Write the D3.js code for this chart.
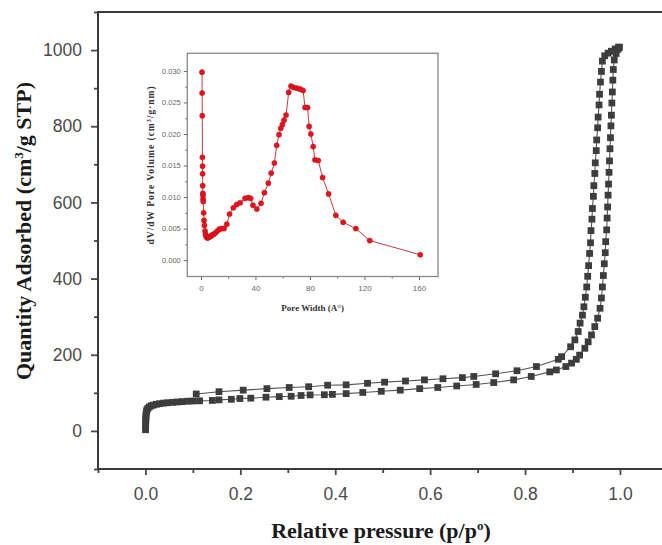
<!DOCTYPE html>
<html>
<head>
<meta charset="utf-8">
<script src="https://cdn.jsdelivr.net/npm/d3@7/dist/d3.min.js"></script>
<style>
  html, body { margin: 0; padding: 0; background: #fff; }
  svg { display: block; }
</style>
</head>
<body>
<svg id="chart" width="662" height="545"></svg>
<script>
// N2 isotherm: adsorption branch [p/p0, quantity cm3/g STP]
const adsorption = [
  [0.0003, 3], [0.0004, 10], [0.0005, 17], [0.0006, 24], [0.0008, 31], [0.001, 38],
  [0.0013, 44], [0.002, 50], [0.003, 55], [0.005, 59], [0.008, 63], [0.012, 66],
  [0.017, 68], [0.023, 70], [0.030, 71.5], [0.038, 73], [0.047, 74], [0.057, 75],
  [0.067, 76], [0.078, 77], [0.089, 78], [0.100, 78.5],
  [0.114, 79], [0.141, 80], [0.155, 81.5], [0.181, 83], [0.199, 85], [0.222, 86],
  [0.254, 88.5], [0.282, 90], [0.307, 91], [0.328, 93], [0.347, 94.5], [0.377, 95],
  [0.394, 96], [0.423, 98], [0.458, 101], [0.497, 104], [0.537, 107], [0.578, 111],
  [0.616, 114], [0.656, 118], [0.697, 122], [0.734, 127], [0.776, 134], [0.813, 143],
  [0.852, 155], [0.866, 160], [0.886, 169], [0.898, 178], [0.908, 188], [0.915, 199],
  [0.926, 217], [0.933, 234], [0.940, 252], [0.947, 274], [0.953, 296], [0.958, 322],
  [0.961, 349], [0.963, 378], [0.965, 408], [0.967, 439], [0.969, 468], [0.970, 497],
  [0.972, 528], [0.973, 559], [0.974, 588], [0.975, 619], [0.976, 648], [0.977, 679],
  [0.978, 709], [0.979, 741], [0.980, 770], [0.981, 801], [0.982, 829], [0.983, 861],
  [0.984, 890], [0.985, 921], [0.986, 949], [0.988, 974], [0.992, 991], [0.996, 1002],
  [0.999, 1007]
];

// Desorption branch [p/p0, quantity cm3/g STP]
const desorption = [
  [0.107, 97], [0.155, 103], [0.206, 107], [0.256, 111], [0.303, 114], [0.344, 116],
  [0.384, 120], [0.423, 121], [0.468, 125], [0.504, 128], [0.548, 131], [0.588, 134],
  [0.627, 137], [0.668, 140], [0.692, 143], [0.738, 150], [0.783, 158], [0.824, 169],
  [0.870, 188], [0.877, 195], [0.896, 221], [0.905, 239], [0.912, 261], [0.916, 283],
  [0.921, 304], [0.924, 326], [0.927, 351], [0.930, 378], [0.932, 406], [0.934, 434],
  [0.936, 466], [0.938, 494], [0.939, 526], [0.941, 556], [0.942, 584], [0.944, 616],
  [0.945, 644], [0.947, 676], [0.948, 704], [0.950, 736], [0.951, 764], [0.953, 796],
  [0.954, 824], [0.956, 856], [0.957, 884], [0.959, 916], [0.961, 944], [0.963, 971],
  [0.968, 985], [0.975, 992], [0.982, 997], [0.990, 1003], [0.997, 1008]
];

// Pore size distribution [pore width (A), dV/dW]
const poreDistribution = [
  [0.8, 0.0298], [0.9, 0.0265], [1.0, 0.0229], [1.1, 0.0163], [1.2, 0.0149], [1.25, 0.0137],
  [1.3, 0.0118], [1.4, 0.0106], [1.5, 0.0103], [1.6, 0.0097], [1.7, 0.0093], [2.0, 0.0075],
  [2.3, 0.0063], [2.6, 0.0055], [3.0, 0.0046], [3.4, 0.0041], [3.8, 0.0038], [4.3, 0.0036],
  [4.9, 0.0035], [5.6, 0.0036], [6.4, 0.0037], [7.3, 0.0038], [8.3, 0.0040], [9.4, 0.0041],
  [10.6, 0.0043], [12.0, 0.0046], [13.5, 0.0049], [15.2, 0.0050], [17.0, 0.0050],
  [19.0, 0.0057], [21.0, 0.0073], [23.8, 0.0083], [26.2, 0.0088], [28.8, 0.0091],
  [32.4, 0.0098], [34.8, 0.0099], [36.5, 0.0098], [38.2, 0.0087], [41.0, 0.0081],
  [44.1, 0.0090], [46.6, 0.0107], [49.5, 0.0122], [51.6, 0.0138], [53.9, 0.0154],
  [55.6, 0.0182], [57.3, 0.0199], [58.6, 0.0209], [59.8, 0.0215], [61.0, 0.0222],
  [62.5, 0.0230], [64.4, 0.0266], [66.1, 0.0276], [67.8, 0.0274], [69.8, 0.0273],
  [71.5, 0.0272], [73.2, 0.0271], [75.0, 0.0269], [76.4, 0.0242], [78.3, 0.0242],
  [79.4, 0.0212], [80.7, 0.0200], [82.4, 0.0180], [83.7, 0.0159], [86.1, 0.0158],
  [89.3, 0.0131], [93.7, 0.0105], [99.0, 0.0071], [104.4, 0.0060], [113.7, 0.0050],
  [123.9, 0.0031], [161.0, 0.00085]
];

// Tick values
const mainXTicks = [0.0, 0.2, 0.4, 0.6, 0.8, 1.0];
const mainXMinor = [-0.1, 0.1, 0.3, 0.5, 0.7, 0.9];
const mainYTicks = [0, 200, 400, 600, 800, 1000];
const mainYMinor = [-100, 100, 300, 500, 700, 900, 1100];
const insetXTicks = [0, 40, 80, 120, 160];
const insetXMinor = [20, 60, 100, 140];
const insetYTicks = [0, 0.005, 0.010, 0.015, 0.020, 0.025, 0.030];
const insetYMinor = [0.0025, 0.0075, 0.0125, 0.0175, 0.0225, 0.0275];

const svg = d3.select("#chart");

// ---------- main isotherm plot ----------
const x = d3.scaleLinear().domain([-0.1, 1.1]).range([98, 667.4]);
const y = d3.scaleLinear().domain([-100, 1100]).range([469, 12]);

const axisColor = "#3a3a3a";
const sansFont = "'Liberation Sans', Arial, sans-serif";
const serifFont = "'Liberation Serif', 'Times New Roman', serif";

function styleAxis(g, fontSize, color, font) {
  g.select(".domain").remove();
  g.selectAll(".tick line").attr("stroke", color);
  g.selectAll(".tick text")
    .attr("fill", color)
    .style("font-family", font)
    .style("font-size", fontSize + "px");
}

// major + minor ticks
svg.append("g")
  .attr("transform", `translate(0,${y(-100)})`)
  .call(d3.axisBottom(x).tickValues(mainXTicks).tickFormat(d3.format(".1f"))
    .tickSize(6).tickPadding(13))
  .call(g => styleAxis(g, 17.5, "#4a4a4a", sansFont))
  .call(g => g.selectAll(".tick line").attr("stroke-width", 1.8));
svg.append("g")
  .attr("transform", `translate(0,${y(-100)})`)
  .call(d3.axisBottom(x).tickValues(mainXMinor).tickFormat("").tickSize(4))
  .call(g => styleAxis(g, 10, "#444", sansFont))
  .call(g => g.selectAll(".tick line").attr("stroke-width", 1.8));

svg.append("g")
  .attr("transform", `translate(${x(-0.1)},0)`)
  .call(d3.axisLeft(y).tickValues(mainYTicks).tickFormat(d3.format("d"))
    .tickSize(7).tickPadding(9))
  .call(g => styleAxis(g, 17.5, "#4a4a4a", sansFont))
  .call(g => g.selectAll(".tick line").attr("stroke-width", 1.8));
svg.append("g")
  .attr("transform", `translate(${x(-0.1)},0)`)
  .call(d3.axisLeft(y).tickValues(mainYMinor).tickFormat("").tickSize(4))
  .call(g => styleAxis(g, 10, "#444", sansFont))
  .call(g => g.selectAll(".tick line").attr("stroke-width", 1.8));

// plot frame
svg.append("rect")
  .attr("x", x(-0.1)).attr("y", y(1100))
  .attr("width", x(1.1) - x(-0.1)).attr("height", y(-100) - y(1100))
  .attr("fill", "none").attr("stroke", axisColor).attr("stroke-width", 2);

// isotherm branches
const line = d3.line().x(d => x(d[0])).y(d => y(d[1]));
const square = d3.symbol(d3.symbolSquare, 46);

[adsorption, desorption].forEach(series => {
  svg.append("path")
    .datum(series)
    .attr("d", line)
    .attr("fill", "none")
    .attr("stroke", "#555")
    .attr("stroke-width", 1.1);
  svg.append("g")
    .selectAll("path")
    .data(series)
    .join("path")
    .attr("transform", d => `translate(${x(d[0])},${y(d[1])})`)
    .attr("d", square)
    .attr("fill", "#3d3d3d");
});

// axis titles
svg.append("text")
  .attr("x", 381).attr("y", 538)
  .attr("text-anchor", "middle")
  .style("font-family", serifFont).style("font-weight", "bold").style("font-size", "22px")
  .attr("fill", "#1a1a1a")
  .call(t => {
    t.append("tspan").text("Relative pressure (p/p");
    t.append("tspan").attr("dy", -8).style("font-size", "13px").text("o");
    t.append("tspan").attr("dy", 8).text(")");
  });

svg.append("text")
  .attr("transform", "translate(31,231) rotate(-90)")
  .attr("text-anchor", "middle")
  .style("font-family", serifFont).style("font-weight", "bold").style("font-size", "22px")
  .attr("fill", "#1a1a1a")
  .call(t => {
    t.append("tspan").text("Quantity Adsorbed (cm");
    t.append("tspan").attr("dy", -8).style("font-size", "13px").text("3");
    t.append("tspan").attr("dy", 8).text("/g STP)");
  });

// ---------- inset: pore size distribution ----------
const ix = d3.scaleLinear().domain([-10, 174]).range([187.3, 438]);
const iy = d3.scaleLinear().domain([-0.0026, 0.0328]).range([276.5, 53.3]);

svg.append("g")
  .attr("transform", `translate(0,${iy(-0.0026)})`)
  .call(d3.axisBottom(ix).tickValues(insetXTicks).tickFormat(d3.format("d"))
    .tickSize(3.5).tickPadding(5))
  .call(g => styleAxis(g, 8, "#666", sansFont));
svg.append("g")
  .attr("transform", `translate(0,${iy(-0.0026)})`)
  .call(d3.axisBottom(ix).tickValues(insetXMinor).tickFormat("").tickSize(2))
  .call(g => styleAxis(g, 8, "#666", sansFont));

svg.append("g")
  .attr("transform", `translate(${ix(-10)},0)`)
  .call(d3.axisLeft(iy).tickValues(insetYTicks).tickFormat(d3.format(".3f"))
    .tickSize(3.5).tickPadding(3))
  .call(g => styleAxis(g, 7.5, "#666", sansFont));
svg.append("g")
  .attr("transform", `translate(${ix(-10)},0)`)
  .call(d3.axisLeft(iy).tickValues(insetYMinor).tickFormat("").tickSize(2))
  .call(g => styleAxis(g, 7.5, "#666", sansFont));

svg.append("rect")
  .attr("x", ix(-10)).attr("y", iy(0.0328))
  .attr("width", ix(174) - ix(-10)).attr("height", iy(-0.0026) - iy(0.0328))
  .attr("fill", "none").attr("stroke", "#888").attr("stroke-width", 1.3);

const iline = d3.line().x(d => ix(d[0])).y(d => iy(d[1]));
svg.append("path")
  .datum(poreDistribution)
  .attr("d", iline)
  .attr("fill", "none")
  .attr("stroke", "#b8282c")
  .attr("stroke-width", 0.9);
svg.append("g")
  .selectAll("circle")
  .data(poreDistribution)
  .join("circle")
  .attr("cx", d => ix(d[0]))
  .attr("cy", d => iy(d[1]))
  .attr("r", 2.6)
  .attr("fill", "#e8121c")
  .attr("stroke", "#b80e16")
  .attr("stroke-width", 0.5);

svg.append("text")
  .attr("x", ix(82)).attr("y", 311)
  .attr("text-anchor", "middle")
  .style("font-family", serifFont).style("font-weight", "bold").style("font-size", "9px")
  .attr("fill", "#333")
  .text("Pore Width (A°)");

svg.append("text")
  .attr("transform", `translate(154,${(iy(0.0328) + iy(-0.0026)) / 2}) rotate(-90)`)
  .attr("text-anchor", "middle")
  .style("font-family", serifFont).style("font-weight", "bold").style("font-size", "9.5px")
  .style("letter-spacing", "1px")
  .attr("fill", "#333")
  .call(t => {
    t.append("tspan").text("dV/dW Pore Volume (cm");
    t.append("tspan").attr("dy", -3).style("font-size", "6px").text("3");
    t.append("tspan").attr("dy", 3).text("/g·nm)");
  });
</script>
</body>
</html>
